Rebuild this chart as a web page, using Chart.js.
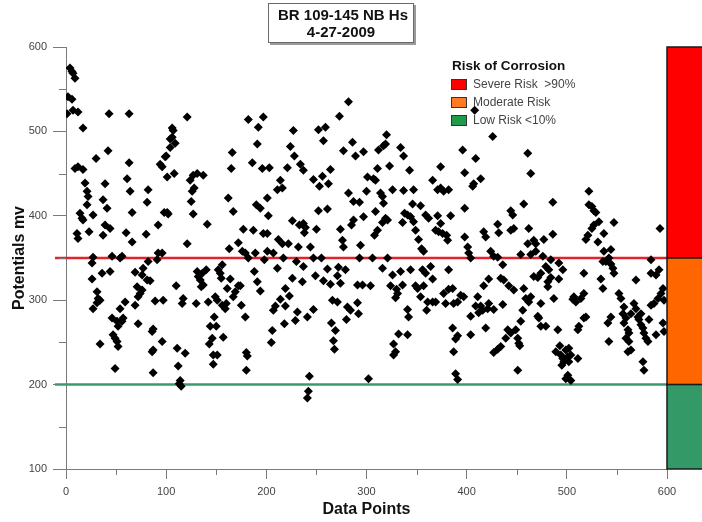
<!DOCTYPE html>
<html><head><meta charset="utf-8">
<script src="https://cdn.jsdelivr.net/npm/chart.js@4.4.1/dist/chart.umd.min.js"></script>
<style>html,body{margin:0;padding:0;background:#fff;}#wrap{width:702px;height:522px;}</style>
</head><body><div id="wrap"><canvas id="c" width="702" height="522"></canvas></div>
<script>
const chartTitle = ['BR 109-145 NB Hs', '4-27-2009'];
const xTitle = 'Data Points';
const yTitle = 'Potentials mv';
const xTickValues = [0, 100, 200, 300, 400, 500, 600];
const xMinorTicks = [50, 150, 250, 350, 450, 550];
const yTickValues = [100, 200, 300, 400, 500, 600];
const yMinorTicks = [150, 250, 350, 450, 550];
const thresholdValues = [350, 200];
const zoneBounds = [600, 350, 200, 100];
const legendTitle = 'Risk of Corrosion';
const legendLabels = ['Severe Risk  >90%', 'Moderate Risk', 'Low Risk <10%'];

const points = [
[4,575],[6,571],[7,569],[9,563],[2,541],[6,538],[1,521],[7,525],[12,523],[17,504],[43,521],[63,521],
[9,456],[12,458],[17,455],[42,477],[30,468],[63,463],[19,439],[21,429],[22,423],[21,413],[39,438],[37,419],[41,409],[61,444],[64,429],[66,404],[82,431],[81,416],[14,403],[16,397],[17,395],[27,401],[23,381],[37,377],[39,389],[44,385],[60,380],[66,369],[80,378],[92,389],[99,470],[94,461],[96,458],[98,404],[11,379],[12,373],[27,351],[26,344],[46,352],[56,352],[54,350],[91,348],[92,356],[96,356],[82,346],[77,338],[76,330],[69,333],[26,325],[36,332],[44,334],[31,310],[32,302],[34,300],[31,297],[27,290],[69,294],[71,316],[74,308],[72,304],[76,312],[81,324],[84,323],[89,299],[97,300],[46,279],[51,275],[52,269],[56,275],[57,279],[54,290],[59,298],[72,272],[47,259],[49,255],[51,251],[52,245],[34,248],[86,263],[87,266],[96,251],[86,239],[87,241],[49,219],[87,214],
[121,517],[182,514],[197,517],[192,505],[106,504],[107,501],[104,491],[106,493],[109,486],[104,481],[191,485],[100,471],[166,475],[165,456],[186,463],[196,456],[101,446],[108,450],[124,442],[127,448],[131,450],[137,448],[126,429],[128,433],[125,417],[162,421],[167,405],[190,413],[194,409],[101,404],[102,402],[127,402],[197,379],[141,390],[177,384],[187,383],[121,367],[163,361],[172,368],[176,358],[179,356],[182,350],[189,356],[198,348],[156,342],[131,334],[132,328],[136,332],[140,336],[134,324],[135,316],[137,318],[152,336],[154,332],[155,326],[161,314],[164,325],[172,317],[169,310],[174,317],[167,304],[188,334],[191,322],[194,311],[110,317],[117,302],[116,296],[130,296],[142,298],[149,304],[151,300],[156,294],[159,290],[160,296],[175,294],[179,280],[148,280],[144,269],[150,269],[146,255],[143,248],[157,256],[111,243],[119,237],[147,235],[151,235],[147,224],[180,238],[181,234],[180,217],[112,222],[114,205],[115,198],[113,201],
[282,535],[273,518],[227,501],[252,502],[259,505],[257,489],[224,482],[228,471],[277,477],[286,487],[289,471],[297,476],[203,457],[221,457],[234,461],[237,454],[247,443],[256,447],[253,435],[262,438],[264,455],[211,431],[216,433],[214,442],[201,421],[202,400],[252,406],[261,408],[282,427],[287,417],[293,416],[297,399],[226,394],[233,389],[237,391],[239,386],[238,380],[250,384],[274,384],[276,371],[277,363],[287,395],[285,389],[201,379],[212,372],[216,367],[222,367],[232,363],[244,363],[294,365],[201,358],[207,356],[217,350],[230,346],[247,350],[255,350],[237,340],[211,338],[261,337],[249,329],[257,323],[264,319],[272,339],[271,329],[279,336],[274,320],[291,318],[296,318],[226,326],[236,322],[219,314],[223,305],[214,301],[209,293],[207,288],[219,293],[231,286],[229,276],[241,280],[247,289],[266,300],[271,298],[281,292],[284,288],[280,277],[291,297],[292,284],[218,272],[206,264],[205,250],[265,273],[269,264],[267,252],[268,242],[243,210],[242,192],[241,184],
[320,496],[312,478],[317,483],[319,485],[334,481],[337,471],[396,478],[398,451],[301,446],[307,444],[309,442],[311,456],[323,459],[343,454],[374,458],[366,442],[371,431],[374,433],[377,429],[382,431],[300,429],[314,427],[316,423],[317,415],[326,431],[337,430],[347,431],[346,414],[354,412],[359,401],[362,397],[338,403],[341,401],[344,399],[347,393],[349,383],[336,392],[316,392],[319,397],[321,395],[309,405],[384,400],[371,400],[374,391],[369,383],[372,381],[376,379],[380,377],[381,371],[311,383],[308,377],[352,372],[355,361],[357,358],[398,409],[398,375],[293,350],[306,350],[321,350],[316,338],[326,330],[334,334],[344,336],[356,336],[359,332],[364,340],[366,325],[382,336],[304,317],[324,317],[330,313],[331,308],[329,303],[336,318],[349,317],[351,314],[357,317],[354,304],[361,298],[366,298],[369,298],[379,296],[377,308],[382,313],[386,314],[387,296],[391,298],[394,306],[341,289],[342,280],[360,288],[332,260],[341,259],[327,248],[329,239],[327,235],[386,267],[391,258],[389,254],[387,239],[302,207],[389,213],[391,206],
[408,525],[426,494],[461,474],[409,468],[464,450],[407,438],[414,444],[406,435],[457,414],[486,416],[444,406],[446,401],[444,383],[447,385],[431,390],[432,380],[417,381],[419,375],[462,385],[461,367],[467,371],[469,367],[477,372],[486,378],[401,363],[402,356],[404,350],[424,358],[427,352],[431,351],[454,354],[464,354],[469,358],[476,352],[484,348],[492,344],[436,342],[434,326],[437,324],[442,317],[447,312],[422,325],[417,317],[397,304],[411,304],[409,293],[414,293],[416,288],[412,285],[421,290],[422,296],[427,289],[436,295],[404,281],[404,259],[419,267],[454,275],[456,288],[457,314],[459,302],[464,304],[462,298],[467,328],[471,327],[474,332],[479,340],[482,336],[484,327],[481,322],[481,316],[492,325],[474,296],[471,281],[472,279],[474,269],[479,269],[487,302],[491,265],[444,261],[441,265],[439,255],[449,265],[451,255],[452,249],[453,246],[431,242],[434,245],[427,238],[451,217],[489,239],[493,246],[494,235],[496,231],[497,227],[495,223],[499,207],
[522,429],[522,413],[525,411],[527,406],[529,404],[532,393],[527,389],[525,385],[521,377],[519,372],[531,369],[537,379],[547,392],[593,385],[537,358],[544,360],[542,350],[539,346],[536,346],[544,343],[546,338],[547,332],[584,348],[584,332],[589,330],[592,336],[596,314],[569,324],[534,325],[536,314],[517,332],[496,336],[552,308],[554,302],[557,292],[556,284],[559,279],[557,273],[561,265],[562,261],[559,255],[562,251],[564,241],[561,239],[564,284],[567,296],[569,290],[571,280],[572,277],[574,284],[574,271],[576,267],[577,261],[579,255],[581,251],[582,277],[584,294],[587,296],[591,302],[594,308],[597,300],[589,259],[597,263],[596,273],[576,227],[577,217],[542,251],[544,280],[541,273],[507,304],[506,301],[509,298],[514,302],[517,308],[512,269],[511,265],[517,279],[519,280],[499,241],[502,243],[501,233],[504,235],[502,227],[511,231],[504,205],[501,211]
];

const FONT = "'Liberation Sans', Arial, sans-serif";
const thresholdColors = ['#e2232b', '#3b9a6b'];
const zoneColors = ['#ff0000', '#ff6600', '#339966'];
const swatchColors = ['#ff0000', '#ff7a22', '#1f9a4a'];
const AXIS = '#7a7a7a';

const decor = {
  id: 'decor',
  beforeDatasetsDraw(chart) {
    const {ctx, chartArea, scales: {x, y}} = chart;
    ctx.save();
    thresholdValues.forEach((v, i) => {
      const py = y.getPixelForValue(v);
      ctx.strokeStyle = thresholdColors[i];
      ctx.lineWidth = 2.5;
      ctx.beginPath();
      ctx.moveTo(chartArea.left - 11, py);
      ctx.lineTo(x.getPixelForValue(600), py);
      ctx.stroke();
    });
    ctx.restore();
  },
  afterDraw(chart) {
    const {ctx, chartArea, scales: {x, y}} = chart;
    ctx.save();
    for (let i = 0; i < zoneColors.length; i++) {
      const t = y.getPixelForValue(zoneBounds[i]);
      const b = y.getPixelForValue(zoneBounds[i + 1]);
      ctx.fillStyle = zoneColors[i];
      ctx.fillRect(chartArea.right, t, chart.width - chartArea.right + 5, b - t);
      ctx.strokeStyle = '#1a1a1a';
      ctx.lineWidth = 1.5;
      ctx.strokeRect(chartArea.right, t, chart.width - chartArea.right + 5, b - t);
    }
    ctx.strokeStyle = AXIS;
    ctx.lineWidth = 1;
    xMinorTicks.forEach(v => {
      const px = Math.round(x.getPixelForValue(v)) + 0.5;
      ctx.beginPath(); ctx.moveTo(px, chartArea.bottom); ctx.lineTo(px, chartArea.bottom + 6); ctx.stroke();
    });
    yMinorTicks.forEach(v => {
      const py = Math.round(y.getPixelForValue(v)) + 0.5;
      ctx.beginPath(); ctx.moveTo(chartArea.left - 7, py); ctx.lineTo(chartArea.left, py); ctx.stroke();
    });
    const bx = 268, by = 3, bw = 146, bh = 40;
    ctx.fillStyle = '#9a9a9a';
    ctx.fillRect(bx + 2, by + 2, bw, bh);
    ctx.fillStyle = '#fff';
    ctx.fillRect(bx, by, bw, bh);
    ctx.strokeStyle = '#6a6a6a';
    ctx.lineWidth = 1;
    ctx.strokeRect(bx + 0.5, by + 0.5, bw - 1, bh - 1);
    ctx.fillStyle = '#111';
    ctx.font = 'bold 15px ' + FONT;
    ctx.textAlign = 'center';
    ctx.textBaseline = 'middle';
    ctx.fillText(chartTitle[0], bx + bw / 2 + 2, by + 13);
    ctx.fillText(chartTitle[1], bx + bw / 2, by + 30);
    ctx.textAlign = 'left';
    ctx.font = 'bold 13.5px ' + FONT;
    ctx.fillStyle = '#111';
    ctx.fillText(legendTitle, 452, 66);
    ctx.font = '12px ' + FONT;
    legendLabels.forEach((lab, i) => {
      const sy = 79 + i * 18;
      ctx.fillStyle = swatchColors[i];
      ctx.fillRect(451, sy, 16, 11);
      ctx.strokeStyle = '#333';
      ctx.strokeRect(451.5, sy + 0.5, 15, 10);
      ctx.fillStyle = '#444';
      ctx.fillText(lab, 473, sy + 6);
    });
    ctx.restore();
  }
};

new Chart(document.getElementById('c'), {
  type: 'scatter',
  data: {
    datasets: [{
      data: points.map(p => ({x: p[0], y: p[1]})),
      pointStyle: 'rectRot',
      pointRadius: 4.5,
      backgroundColor: '#000',
      borderColor: '#000',
      borderWidth: 0
    }]
  },
  options: {
    responsive: false,
    animation: false,
    devicePixelRatio: 1,
    layout: {padding: {top: 47, right: 35, bottom: 0, left: 0}},
    plugins: {legend: {display: false}, title: {display: false}, tooltip: {enabled: false}},
    scales: {
      x: {
        type: 'linear', min: 0, max: 600,
        afterBuildTicks: s => { s.ticks = xTickValues.map(v => ({value: v})); },
        afterFit: s => { s.height = 53; },
        grid: {drawOnChartArea: false, drawTicks: true, tickLength: 10, tickColor: AXIS},
        border: {display: true, color: AXIS, width: 1},
        ticks: {font: {family: FONT, size: 11}, color: '#444', padding: 6, maxRotation: 0},
        title: {display: true, text: xTitle, color: '#111', font: {family: FONT, size: 16, weight: 'bold'}, padding: {top: 0, bottom: 3}}
      },
      y: {
        type: 'linear', min: 100, max: 600,
        afterBuildTicks: s => { s.ticks = yTickValues.map(v => ({value: v})); },
        afterFit: s => { s.width = 66; },
        grid: {drawOnChartArea: false, drawTicks: true, tickLength: 13, tickColor: AXIS},
        border: {display: true, color: AXIS, width: 1},
        ticks: {font: {family: FONT, size: 11}, color: '#444', padding: 6},
        title: {display: true, text: yTitle, color: '#111', font: {family: FONT, size: 16, weight: 'bold'}, padding: {top: 10, bottom: 0}}
      }
    }
  },
  plugins: [decor]
});
</script></body></html>
